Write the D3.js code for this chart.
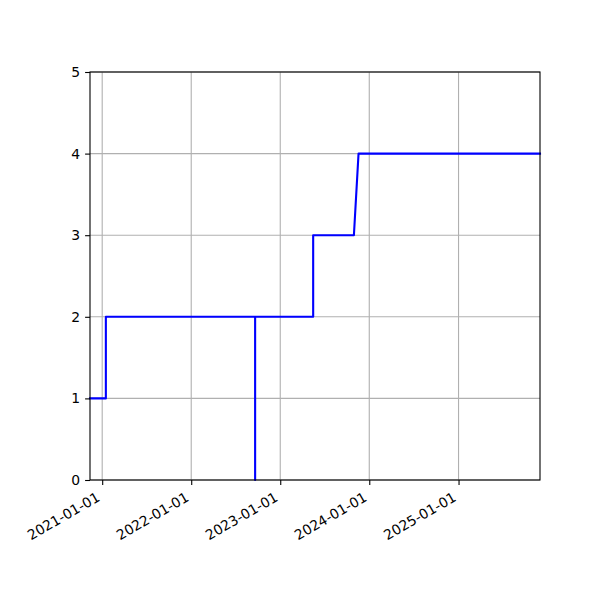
<!DOCTYPE html>
<html>
<head>
<meta charset="utf-8">
<script src="https://cdn.jsdelivr.net/npm/d3@7"></script>
<style>
  body { margin: 0; background: #fff; }
  svg { display: block; }
  text { font-family: "DejaVu Sans", sans-serif; font-size: 13.9px; fill: #000; }
</style>
</head>
<body>
<svg id="chart" width="600" height="600"></svg>
<script>
// Data
const dates = ["2020-11-12", "2021-01-16", "2021-01-16", "2022-09-20", "2022-09-20", "2022-09-20",
               "2023-05-16", "2023-05-16", "2023-10-30", "2023-11-18", "2025-12-01"];
const values = [1, 1, 2, 2, 0, 2, 2, 3, 3, 4, 4];
const xTickLabels = ["2021-01-01", "2022-01-01", "2023-01-01", "2024-01-01", "2025-01-01"];
const yTicks = [0, 1, 2, 3, 4, 5];

const parse = d3.utcParse("%Y-%m-%d");
const points = dates.map((d, i) => ({ t: parse(d), v: values[i] }));

const margin = { left: 90, right: 60, top: 72, bottom: 120 };
const W = 600, H = 600;
const svg = d3.select("#chart");

const x = d3.scaleUtc()
  .domain(d3.extent(points, d => d.t))
  .range([margin.left, W - margin.right]);
const y = d3.scaleLinear()
  .domain([0, 5])
  .range([H - margin.bottom, margin.top]);

const xTicks = xTickLabels.map(parse);

// Grid
const grid = svg.append("g");
grid.selectAll("line.vx").data(xTicks).join("line")
  .attr("x1", d => x(d)).attr("x2", d => x(d))
  .attr("y1", y(0)).attr("y2", y(5))
  .attr("stroke", "#b0b0b0").attr("stroke-width", 1.1);
grid.selectAll("line.hy").data(yTicks).join("line")
  .attr("x1", x.range()[0]).attr("x2", x.range()[1])
  .attr("y1", d => y(d)).attr("y2", d => y(d))
  .attr("stroke", "#b0b0b0").attr("stroke-width", 1.1);

// Line
const line = d3.line().x(d => x(d.t)).y(d => y(d.v));
svg.append("path").datum(points)
  .attr("d", line)
  .attr("fill", "none")
  .attr("stroke", "#0000ff")
  .attr("stroke-width", 2.1)
  .attr("stroke-linejoin", "round")
  .attr("stroke-linecap", "square");

// Axes
const xAxis = d3.axisBottom(x).tickValues(xTicks).tickSize(4.9).tickPadding(4.9)
  .tickFormat(d3.utcFormat("%Y-%m-%d"));
const gx = svg.append("g").attr("transform", `translate(0,${y(0)})`).call(xAxis);
gx.select(".domain").remove();
gx.selectAll(".tick line").attr("stroke", "#000").attr("stroke-width", 1.1);
gx.selectAll(".tick text")
  .attr("text-anchor", "end")
  .attr("y", 0).attr("dy", "0.75em")
  .attr("transform", "translate(-7,11) rotate(-30)")
  .style("font-size", "13.9px").style("font-family", "DejaVu Sans, sans-serif");

const yAxis = d3.axisLeft(y).tickValues(yTicks).tickSize(4.9).tickPadding(4.9)
  .tickFormat(d3.format("d"));
const gy = svg.append("g").attr("transform", `translate(${x.range()[0]},0)`).call(yAxis);
gy.select(".domain").remove();
gy.selectAll(".tick line").attr("stroke", "#000").attr("stroke-width", 1.1);
gy.selectAll(".tick text")
  .style("font-size", "13.9px").style("font-family", "DejaVu Sans, sans-serif");

// Frame (spines)
svg.append("rect")
  .attr("x", x.range()[0]).attr("y", y(5))
  .attr("width", x.range()[1] - x.range()[0])
  .attr("height", y(0) - y(5))
  .attr("fill", "none").attr("stroke", "#000").attr("stroke-width", 1.1);
</script>
</body>
</html>
